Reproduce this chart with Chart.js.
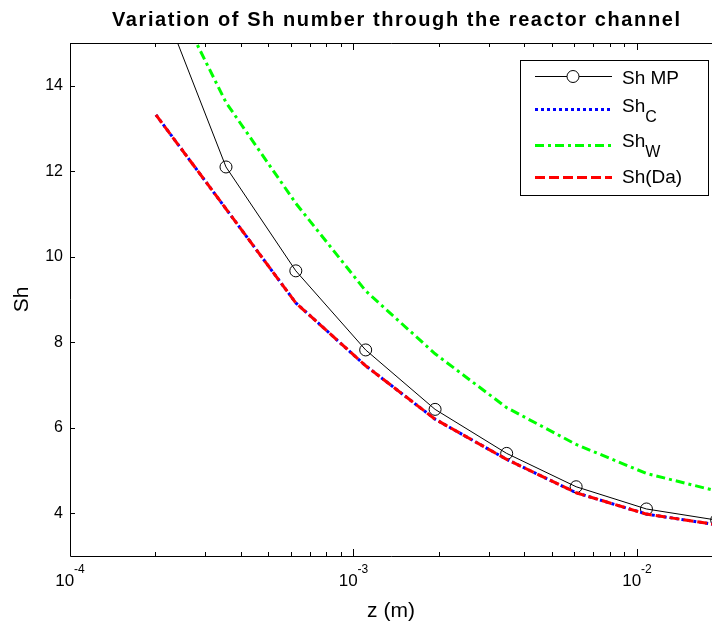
<!DOCTYPE html>
<html lang="en">
<head>
    <meta charset="UTF-8">
    <title>Variation of Sh number</title>
    <script src="https://cdn.jsdelivr.net/npm/chart.js"></script>
    <style>
        body { margin: 0; padding: 0; background: #fff; }
        #shChart { display: block; }
    </style>
</head>
<body>
    <canvas id="shChart" width="712" height="624"></canvas>

    <script>
        // axial positions (m), same grid for every curve
        const zValues = [2.01e-4, 3.55e-4, 6.26e-4, 1.104e-3, 1.94e-3, 3.47e-3, 6.10e-3, 1.08e-2, 1.91e-2];
        // Sherwood numbers
        const shMP = [16.3, 12.1, 9.67, 7.82, 6.43, 5.40, 4.62, 4.10, 3.84];
        const shC  = [13.32, 11.12, 8.92, 7.45, 6.20, 5.26, 4.48, 3.98, 3.73];
        const shW  = [16.9, 13.61, 11.25, 9.20, 7.73, 6.47, 5.61, 4.93, 4.52];
        const shDa = [13.32, 11.12, 8.92, 7.45, 6.20, 5.26, 4.48, 3.98, 3.73];

        const yTicks = [4, 6, 8, 10, 12, 14];
        const xMajor = [1e-4, 1e-3, 1e-2];
        const xExponents = ['-4', '-3', '-2'];

        const FONT = '"Liberation Sans", Arial, Helvetica, sans-serif';

        const toPts = ys => zValues.map((z, i) => ({ x: z, y: ys[i] }));

        // log ticks 1..9 x 10^n inside the range
        function logTicks(min, max) {
            const out = [];
            for (let e = -4; e <= -1; e++) {
                for (let m = 1; m <= 9; m++) {
                    const v = m * Math.pow(10, e);
                    if (v >= min * 0.999 && v <= max) out.push({ value: v, major: m === 1 });
                }
            }
            return out;
        }

        // frame, inward ticks, 10^n labels, title and legend (MATLAB look)
        const matlabFrame = {
            id: 'matlabFrame',
            afterDatasetsDraw(chart) {
                const { ctx, chartArea: a, scales } = chart;
                ctx.save();
                ctx.strokeStyle = '#000';
                ctx.lineWidth = 1;
                ctx.beginPath();
                ctx.moveTo(a.left + 0.5, a.top + 0.5);
                ctx.lineTo(a.right, a.top + 0.5);
                ctx.moveTo(a.left + 0.5, a.top);
                ctx.lineTo(a.left + 0.5, a.bottom + 0.5);
                ctx.lineTo(a.right, a.bottom + 0.5);
                scales.x.ticks.forEach(t => {
                    const px = Math.round(scales.x.getPixelForValue(t.value)) + 0.5;
                    const len = t.major ? 7 : 4;
                    ctx.moveTo(px, a.bottom);
                    ctx.lineTo(px, a.bottom - len);
                    ctx.moveTo(px, a.top);
                    ctx.lineTo(px, a.top + len);
                });
                scales.y.ticks.forEach(t => {
                    const py = Math.round(scales.y.getPixelForValue(t.value)) + 0.5;
                    ctx.moveTo(a.left, py);
                    ctx.lineTo(a.left + 5, py);
                });
                ctx.stroke();

                // 10^n tick labels with raised exponent
                ctx.fillStyle = '#000';
                ctx.textAlign = 'left';
                ctx.textBaseline = 'alphabetic';
                xMajor.forEach((v, i) => {
                    const px = scales.x.getPixelForValue(v);
                    ctx.font = '17px ' + FONT;
                    const wBase = ctx.measureText('10').width;
                    ctx.font = '12px ' + FONT;
                    const wExp = ctx.measureText(xExponents[i]).width;
                    const x0 = px - (wBase + wExp) / 2;
                    ctx.font = '17px ' + FONT;
                    ctx.fillText('10', x0, a.bottom + 30);
                    ctx.font = '12px ' + FONT;
                    ctx.fillText(xExponents[i], x0 + wBase, a.bottom + 17);
                });

                // title, stretched to the width MATLAB gave it
                const title = 'Variation of Sh number through the reactor channel';
                ctx.font = 'bold 20px ' + FONT;
                const tw = ctx.measureText(title).width;
                ctx.letterSpacing = ((568 - tw) / (title.length - 1)).toFixed(2) + 'px';
                ctx.textAlign = 'left';
                ctx.fillText(title, 112, 26);
                ctx.letterSpacing = '0px';

                // legend box
                const bx = 520, by = 60, bw = 188, bh = 135;
                ctx.fillStyle = '#fff';
                ctx.fillRect(bx, by, bw, bh);
                ctx.strokeRect(bx + 0.5, by + 0.5, bw, bh);

                const rows = [
                    { y: 76, base: 83.5, ds: 0, text: 'Sh MP', sub: '' },
                    { y: 109, base: 111.7, ds: 1, text: 'Sh', sub: 'C' },
                    { y: 145, base: 146.8, ds: 2, text: 'Sh', sub: 'W' },
                    { y: 177, base: 182.8, ds: 3, text: 'Sh(Da)', sub: '' }
                ];
                rows.forEach(r => {
                    const d = chart.data.datasets[r.ds];
                    ctx.save();
                    ctx.strokeStyle = d.borderColor;
                    ctx.lineWidth = d.borderWidth;
                    ctx.setLineDash(d.borderDash || []);
                    ctx.beginPath();
                    ctx.moveTo(535, r.y + 0.5);
                    ctx.lineTo(612, r.y + 0.5);
                    ctx.stroke();
                    if (d.pointRadius > 0) {
                        ctx.setLineDash([]);
                        ctx.beginPath();
                        ctx.arc(573, r.y + 0.5, d.pointRadius, 0, Math.PI * 2);
                        ctx.fillStyle = '#fff';
                        ctx.fill();
                        ctx.stroke();
                    }
                    ctx.restore();
                    ctx.fillStyle = '#000';
                    ctx.textAlign = 'left';
                    ctx.textBaseline = 'alphabetic';
                    ctx.font = '19px ' + FONT;
                    ctx.fillText(r.text, 622, r.base);
                    if (r.sub) {
                        const w = ctx.measureText(r.text).width;
                        ctx.font = '16px ' + FONT;
                        ctx.fillText(r.sub, 622 + w, r.base + 10);
                    }
                });
                ctx.restore();
            }
        };

        const ctx = document.getElementById('shChart').getContext('2d');
        const shChart = new Chart(ctx, {
            type: 'line',
            data: {
                datasets: [
                    {
                        label: 'Sh MP', data: toPts(shMP), order: 4,
                        borderColor: '#000', borderWidth: 1,
                        pointRadius: 6, pointStyle: 'circle',
                        pointBackgroundColor: 'rgba(0,0,0,0)', pointBorderColor: '#000', pointBorderWidth: 1
                    },
                    {
                        label: 'ShC', data: toPts(shC), order: 3,
                        borderColor: '#0000ff', borderWidth: 3, borderDash: [3, 3], pointRadius: 0
                    },
                    {
                        label: 'ShW', data: toPts(shW), order: 2,
                        borderColor: '#00ff00', borderWidth: 3, borderDash: [9, 4, 3, 4], pointRadius: 0
                    },
                    {
                        label: 'Sh(Da)', data: toPts(shDa), order: 1,
                        borderColor: '#ff0000', borderWidth: 3, borderDash: [10, 4], pointRadius: 0
                    }
                ]
            },
            options: {
                responsive: false,
                animation: false,
                events: [],
                layout: { autoPadding: false, padding: { top: 43, right: 0, bottom: 0, left: 0 } },
                elements: { line: { tension: 0, fill: false } },
                plugins: {
                    legend: { display: false },
                    title: { display: false },
                    tooltip: { enabled: false }
                },
                scales: {
                    x: {
                        type: 'logarithmic',
                        min: 1e-4,
                        max: 0.01839,
                        border: { display: false },
                        grid: { display: false, drawTicks: false },
                        afterBuildTicks: s => { s.ticks = logTicks(s.min, s.max); },
                        afterFit: s => {
                            s.height = 68;
                            s.paddingLeft = 0;
                            s.paddingRight = 0;
                        },
                        ticks: {
                            autoSkip: false,
                            maxRotation: 0,
                            padding: 0,
                            callback: () => ''
                        },
                        title: {
                            display: true,
                            text: 'z (m)',
                            color: '#000',
                            font: { family: FONT, size: 21 },
                            padding: { top: 4, bottom: 0 }
                        }
                    },
                    y: {
                        min: 3,
                        max: 15,
                        border: { display: false },
                        grid: { display: false, drawTicks: false },
                        afterBuildTicks: s => { s.ticks = yTicks.map(v => ({ value: v })); },
                        afterFit: s => {
                            s.width = 70;
                            s.paddingTop = 0;
                            s.paddingBottom = 0;
                        },
                        ticks: {
                            padding: 7,
                            color: '#000',
                            font: { family: FONT, size: 16 }
                        },
                        title: {
                            display: true,
                            text: 'Sh',
                            color: '#000',
                            font: { family: FONT, size: 21 },
                            padding: { top: 10, bottom: 0 }
                        }
                    }
                }
            },
            plugins: [matlabFrame]
        });
    </script>
</body>
</html>
